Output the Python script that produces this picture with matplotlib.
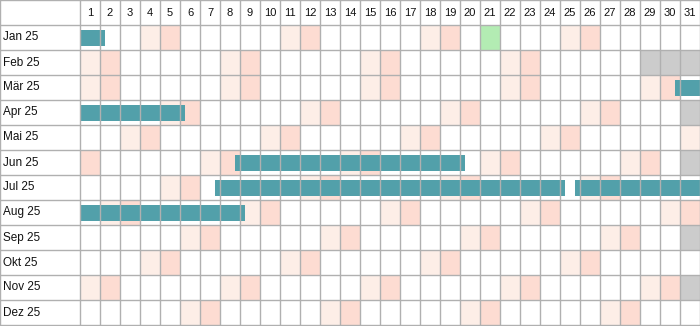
import datetime
import matplotlib.pyplot as plt
from matplotlib.patches import Rectangle

plt.rcParams['font.family'] = ['Liberation Sans', 'DejaVu Sans']

# Daten
jahr = 2025
monate = ['Jan 25', 'Feb 25', 'Mär 25', 'Apr 25', 'Mai 25', 'Jun 25',
          'Jul 25', 'Aug 25', 'Sep 25', 'Okt 25', 'Nov 25', 'Dez 25']
tage = list(range(1, 32))
# besondere Tage (Monat, Tag)
feiertage = [(1, 21)]
# Zeiträume: (Monat, erster Tag, letzter Tag)
zeitraeume = [(1, 1, 1), (3, 31, 31), (4, 1, 5), (6, 9, 19),
              (7, 8, 24), (7, 26, 31), (8, 1, 8)]

c_sa = '#fdeee7'
c_so = '#fddcd2'
c_leer = '#cccccc'
c_fei = '#b3ecb3'
c_bar = '#52a0aa'
c_grid = '#b0b0b0'

fig = plt.figure(figsize=(7, 3.26), dpi=100)
ax = fig.add_axes([0, 0, 1, 1])
ax.set_xlim(-4, 31)
ax.set_ylim(12.04, -1)
ax.axis('off')

for m in range(12):
    for d in tage:
        try:
            wd = datetime.date(jahr, m + 1, d).weekday()
        except ValueError:
            ax.add_patch(Rectangle((d - 1, m), 1, 1, color=c_leer, lw=0))
            continue
        if (m + 1, d) in feiertage:
            ax.add_patch(Rectangle((d - 1, m), 1, 1, color=c_fei, lw=0))
        elif wd == 5:
            ax.add_patch(Rectangle((d - 1, m), 1, 1, color=c_sa, lw=0))
        elif wd == 6:
            ax.add_patch(Rectangle((d - 1, m), 1, 1, color=c_so, lw=0))

# Balken
for (m, a, e) in zeitraeume:
    x0 = max(a - 1 - 0.25, 0)
    x1 = min(e + 0.25, 31)
    ax.add_patch(Rectangle((x0, m - 1 + 0.2), x1 - x0, 0.64, color=c_bar, lw=0, zorder=3))

# Gitter
for x in range(0, 32):
    ax.plot([x, x], [-1, 12], color=c_grid, lw=1, zorder=4)
ax.plot([-4, -4], [-1, 12], color=c_grid, lw=1, zorder=4)
for y in range(-1, 13):
    ax.plot([-4, 31], [y, y], color=c_grid, lw=1, zorder=4)

for d in tage:
    ax.text(d - 0.5, -0.5, str(d), ha='center', va='center', fontsize=8, color='#111111')
for i, name in enumerate(monate):
    ax.text(-3.85, i + 0.5, name, ha='left', va='center', fontsize=8.5, color='#111111')

fig.savefig('out.png', dpi=100)
